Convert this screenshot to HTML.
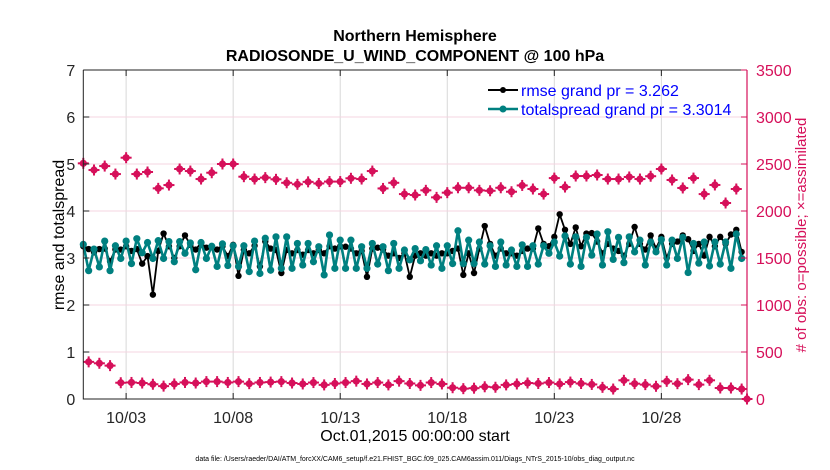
<!DOCTYPE html>
<html><head><meta charset="utf-8"><style>
body{margin:0;background:#fff;}
svg{display:block;font-family:"Liberation Sans",sans-serif;}
</style></head><body>
<svg id="chart" width="830" height="470" viewBox="0 0 830 470" xmlns="http://www.w3.org/2000/svg">
<g id="grid"></g>
<g id="series"></g>
<g id="axes"></g>
<text x="415" y="41" text-anchor="middle" font-size="16" font-weight="bold">Northern Hemisphere</text>
<text x="415" y="61" text-anchor="middle" font-size="16" font-weight="bold">RADIOSONDE_U_WIND_COMPONENT @ 100 hPa</text>
<text x="415" y="441" text-anchor="middle" font-size="16">Oct.01,2015 00:00:00 start</text>
<text x="415" y="461" text-anchor="middle" font-size="7">data file: /Users/raeder/DAI/ATM_forcXX/CAM6_setup/f.e21.FHIST_BGC.f09_025.CAM6assim.011/Diags_NTrS_2015-10/obs_diag_output.nc</text>
<text transform="translate(64,235) rotate(-90)" text-anchor="middle" font-size="16">rmse and totalspread</text>
<text transform="translate(806,235) rotate(-90)" text-anchor="middle" font-size="15" fill="#d6105a"># of obs: o=possible; ×=assimilated</text>
<g>
<g>
<line x1="488" y1="90" x2="518" y2="90" stroke="#000" stroke-width="2"/><circle cx="503" cy="90" r="3" fill="#000"/>
<text x="521" y="96" font-size="16" fill="#0000ff">rmse grand pr = 3.262</text></g>
<g>
<line x1="488" y1="109" x2="518" y2="109" stroke="#008080" stroke-width="2.5"/><circle cx="503" cy="109" r="3.5" fill="#008080"/>
<text x="521" y="115" font-size="16" fill="#0000ff">totalspread grand pr = 3.3014</text></g>
</g>
</svg>
<script>
const tealVals=[3.29,2.73,3.19,2.81,3.36,2.73,3.26,2.99,3.36,2.88,3.41,3.11,3.33,2.99,3.37,2.99,3.35,2.92,3.35,3.10,3.32,2.75,3.33,2.99,3.25,2.82,3.30,2.84,3.26,2.82,
3.26,2.71,3.36,2.67,3.42,2.74,3.45,2.78,3.45,2.78,3.31,2.85,3.31,2.92,3.24,
2.64,3.49,2.78,3.38,2.78,3.38,2.78,3.24,2.78,3.31,2.87,3.24,2.73,3.31,2.78,3.17,2.96,3.2,2.94,3.18,2.85,3.26,2.78,3.26,2.88,3.58,2.88,3.38,2.88,3.34,2.87,3.26,2.82,3.34,2.85,3.17,2.82,3.28,2.82,
3.26,2.87,3.26,3.10,3.34,3.04,3.47,2.87,3.45,2.82,3.44,3.06,3.51,2.85,3.56,2.97,3.44,2.90,3.45,3.13,3.38,2.85,3.34,3.13,3.39,2.85,3.38,2.99,3.44,2.69,3.31,2.89,3.34,2.83,3.34,2.87,3.34,2.78,3.51,2.99];
const rmseVals=[3.25,3.19,3.12,3.19,3.2,2.93,3.18,3.18,3.25,3.15,3.19,2.88,3.04,2.22,3.15,3.52,3.25,3.0,3.25,3.48,3.28,3.18,3.32,3.22,3.25,3.18,3.25,3.04,3.28,2.62,
3.17,3.10,3.26,2.82,3.35,3.2,3.17,2.68,3.17,3.10,3.17,3.07,3.17,3.1,3.17,
3.1,3.25,3.2,3.25,3.24,3.2,3.1,3.15,2.6,3.2,3.22,3.18,3.05,3.1,3.0,3.1,2.6,3.05,3.1,3.05,3.1,3.05,3.1,3.1,3.15,3.2,2.64,3.1,2.68,3.2,3.68,3.3,3.05,3.2,3.1,3.1,3.05,3.15,3.2,
3.2,3.63,3.3,3.25,3.45,3.93,3.6,3.3,3.65,3.25,3.52,3.53,3.35,3.1,3.3,3.2,3.15,3.05,3.3,3.66,3.3,3.18,3.48,3.2,3.45,3.0,3.3,3.35,3.48,3.4,3.15,3.3,3.05,3.45,3.25,3.45,3.3,3.5,3.6,3.13];
const obsPossible=[2507,2436,2478,2393,2567,2393,2415,2241,2276,2447,2425,2340,2407,2500,2500,2365,2340,2355,2337,2300,2284,2310,2293,2313,2313,2348,2340,2425,2240,2300,2180,2170,2220,2145,2195,2247,2247,2220,2215,2247,2205,2272,2234,2180,2350,2255,2372,2372,2383,2340,2340,2362,2340,2370,2447,2330,2245,2350,2180,2277,2085,2234];
const obsUsed=[395,380,355,173,176,170,157,137,160,176,170,185,185,176,185,163,176,
180,185,170,160,175,150,165,175,190,160,175,150,190,165,145,175,160,120,110,115,130,125,150,160,170,165,175,160,180,165,155,
124,106,199,163,153,135,188,163,206,153,199,117,117,106,0];
const xTickLabels=["10/03","10/08","10/13","10/18","10/23","10/28"];
const xTickDays=[2,7,12,17,22,27];
const leftTicks=[0,1,2,3,4,5,6,7];
const rightTicks=[0,500,1000,1500,2000,2500,3000,3500];

const X0=83.3,X1=747,Y0=399,Y1=70;
const xs=d=>X0+(d/31)*(X1-X0);
const yl=v=>Y0-(v/7)*(Y0-Y1);
const yr=v=>Y0-(v/3500)*(Y0-Y1);
const NS="http://www.w3.org/2000/svg";
function mk(tag,attrs,parent){const e=document.createElementNS(NS,tag);for(const k in attrs)e.setAttribute(k,attrs[k]);parent.appendChild(e);return e;}
const grid=document.getElementById('grid'),ser=document.getElementById('series'),ax=document.getElementById('axes');
const PINK="#d6105a";
xTickDays.forEach((d,i)=>{const l=mk('line',{x1:xs(d),x2:xs(d),y1:Y1,y2:Y0,stroke:'#d8d8d8','stroke-width':1},grid);

});
leftTicks.forEach(v=>{if(v===0||v===7)return;const l=mk('line',{x1:X0,x2:X1,y1:yl(v),y2:yl(v),stroke:'#f4d4e0','stroke-width':1},grid);

});
function pinkMark(x,y,name){const g=mk('g',{},ser);


mk('circle',{cx:x,cy:y,r:3.6,fill:PINK},g);mk('rect',{x:x-1,y:y-5.5,width:2,height:11,fill:PINK},g);mk('rect',{x:x-5.5,y:y-1,width:11,height:2,fill:PINK},g);}
obsPossible.forEach((v,i)=>pinkMark(xs(i*0.5),yr(v),'obs-possible-point'));
obsUsed.forEach((v,i)=>{const d=i<obsUsed.length-1?0.25+i*0.5:31;pinkMark(xs(d),yr(v),'obs-assimilated-point');});
function lineSeries(vals,color,w,r,name){
const pts=vals.map((v,i)=>xs(i*0.25).toFixed(2)+','+yl(v).toFixed(2)).join(' ');
const pl=mk('polyline',{points:pts,fill:'none',stroke:color,'stroke-width':w,'stroke-linejoin':'round'},ser);


vals.forEach((v,i)=>{const c=mk('circle',{cx:xs(i*0.25),cy:yl(v),r:r,fill:color},ser);

});}
lineSeries(rmseVals,'#000',1.8,3.2,'rmse');
lineSeries(tealVals,'#008080',2.6,3.6,'totalspread');
const fr=mk('path',{d:`M${X0},${Y1}H${X1}M${X0},${Y1}V${Y0}H${X1}`,fill:'none',stroke:'#222','stroke-width':1},ax);


const ra=mk('line',{x1:X1,x2:X1,y1:Y1,y2:Y0,stroke:PINK,'stroke-width':1.2},ax);


xTickDays.forEach((d,i)=>{mk('line',{x1:xs(d),x2:xs(d),y1:Y0,y2:Y0-6,stroke:'#222'},ax);mk('line',{x1:xs(d),x2:xs(d),y1:Y1,y2:Y1+6,stroke:'#222'},ax);
const t=mk('text',{x:xs(d),y:Y0+24,'text-anchor':'middle','font-size':16,fill:'#262626'},ax);t.textContent=xTickLabels[i];

});
leftTicks.forEach(v=>{mk('line',{x1:X0,x2:X0+6,y1:yl(v),y2:yl(v),stroke:'#222'},ax);
const t=mk('text',{x:X0-8,y:yl(v)+6,'text-anchor':'end','font-size':16,fill:'#262626'},ax);t.textContent=v;

});
rightTicks.forEach(v=>{mk('line',{x1:X1,x2:X1-6,y1:yr(v),y2:yr(v),stroke:PINK},ax);
const t=mk('text',{x:X1+9,y:yr(v)+6,'text-anchor':'start','font-size':16,fill:PINK},ax);t.textContent=v;

});
</script>
</body></html>
